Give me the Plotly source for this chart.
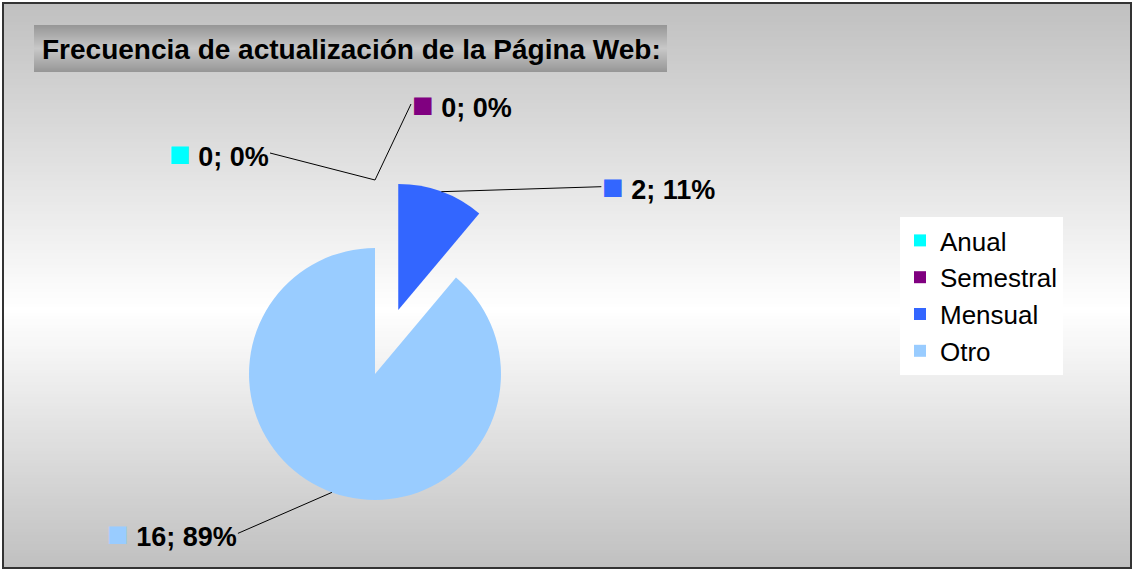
import math
import plotly.graph_objects as go

# ---------------- data ----------------
categories = ["Anual", "Semestral", "Mensual", "Otro"]
values = [0, 0, 2, 16]
colors = ["#00FFFF", "#800080", "#3366FF", "#99CCFF"]
title_text = "Frecuencia de actualización de la Página Web:"

# ---------------- layout constants ----------------
W, H = 1133, 570
FONT = "Liberation Sans, Arial, sans-serif"
pulls = [0.54, 0.54, 0.54, 0.0]
dom_x_px = (181, 569)
dom_y_px = (180, 568)   # measured from top
# label offsets (pixels from the slice anchor) and side
label_pos = {
    "Anual": (-105, -27, "right"),
    "Semestral": (36, -76, "left"),
    "Mensual": (160, -5, "left"),
    "Otro": (-94, 41, "right"),
}


def px_to_paper(x, y):
    return x / W, 1 - y / H


dom_x = [dom_x_px[0] / W, dom_x_px[1] / W]
dom_y = [1 - dom_y_px[1] / H, 1 - dom_y_px[0] / H]

fig = go.Figure()
fig.add_trace(go.Pie(
    labels=categories,
    values=values,
    marker=dict(colors=colors, line=dict(width=0)),
    pull=pulls,
    sort=False,
    direction="clockwise",
    rotation=0,
    textinfo="none",
    domain=dict(x=dom_x, y=dom_y),
    hovertemplate="%{label}: %{value} (%{percent})<extra></extra>",
))

# ---------------- background gradient (style only) ----------------
shapes = []
top, bottom, mid = 4, 567, 310
step = 3
y = top
while y < bottom:
    yc = y + step / 2
    if yc <= mid:
        t = (yc - top) / (mid - top)
    else:
        t = (bottom - yc) / (bottom - mid)
    g = int(round(192 + (255 - 192) * t))
    col = f"rgb({g},{g},{g})"
    x0, y0 = px_to_paper(4, y)
    x1, y1 = px_to_paper(1130, min(y + step, bottom))
    shapes.append(dict(type="rect", xref="paper", yref="paper", x0=x0, x1=x1,
                       y0=y1, y1=y0, fillcolor=col, line=dict(width=0), layer="below"))
    y += step

# title box gradient
tb_top, tb_bot, tb_l, tb_r = 25, 72, 34, 667
tb_mid = (tb_top + tb_bot) / 2
for yy in range(tb_top, tb_bot):
    yc = yy + 0.5
    t = 1 - abs(yc - tb_mid) / (tb_bot - tb_mid)
    g = int(round(150 + (200 - 150) * t))
    col = f"rgb({g},{g},{g})"
    x0, y0 = px_to_paper(tb_l, yy)
    x1, y1 = px_to_paper(tb_r, yy + 1)
    shapes.append(dict(type="rect", xref="paper", yref="paper", x0=x0, x1=x1,
                       y0=y1, y1=y0, fillcolor=col, line=dict(width=0), layer="below"))

# outer border
bx0, by0 = px_to_paper(3, 3)
bx1, by1 = px_to_paper(1131, 568)
shapes.append(dict(type="rect", xref="paper", yref="paper", x0=bx0, x1=bx1,
                   y0=by1, y1=by0, line=dict(color="#333333", width=2),
                   fillcolor="rgba(0,0,0,0)", layer="above"))

# ---------------- data labels with leader lines ----------------
cx = W * (dom_x[0] + dom_x[1]) / 2
cy = H * (1 - (dom_y[0] + dom_y[1]) / 2)
R = min(W * (dom_x[1] - dom_x[0]), H * (dom_y[1] - dom_y[0])) / 2 / (1 + max(pulls))
total = sum(values)
annotations = []
cum = 0.0
for cat, v, col, p in zip(categories, values, colors, pulls):
    frac = v / total
    mid_ang = (cum + frac / 2) * 2 * math.pi
    cum += frac
    ax_px = cx + (1 + p) * R * math.sin(mid_ang)
    ay_px = cy - (1 + p) * R * math.cos(mid_ang)
    ox, oy, side = label_pos[cat]
    pct = round(100 * frac)
    txt = (f"<span style='color:{col};font-size:36px'>■</span>"
           f" <b>{v}; {pct}%</b>")
    xp, yp = px_to_paper(ax_px, ay_px)
    annotations.append(dict(
        x=xp, y=yp, xref="paper", yref="paper",
        ax=ox, ay=oy, axref="pixel", ayref="pixel",
        text=txt, showarrow=True, arrowhead=0, arrowwidth=1, arrowcolor="black",
        xanchor=side, yanchor="middle", borderpad=0,
        font=dict(family=FONT, size=27, color="black"),
    ))

# title
tx, ty = px_to_paper(40, 49)
annotations.append(dict(
    x=tx, y=ty, xref="paper", yref="paper", showarrow=False,
    text=f"<b>{title_text}</b>", xanchor="left", yanchor="middle",
    font=dict(family=FONT, size=28, color="black"),
))

lx, ly = px_to_paper(900, 217)
fig.update_layout(
    width=W, height=H,
    margin=dict(l=0, r=0, t=0, b=0),
    paper_bgcolor="white",
    plot_bgcolor="white",
    shapes=shapes,
    annotations=annotations,
    showlegend=True,
    legend=dict(x=lx, y=ly, xanchor="left", yanchor="top",
                bgcolor="white", borderwidth=0,
                font=dict(family=FONT, size=26, color="black")),
)

fig.write_html("out.html", config={"displayModeBar": False},
               post_script="document.body.style.margin='0';")
